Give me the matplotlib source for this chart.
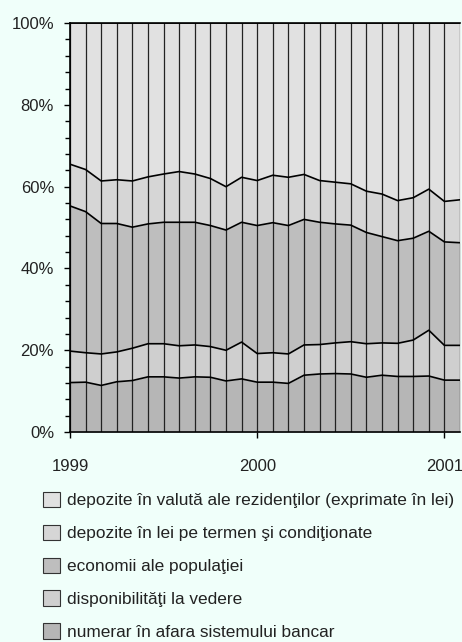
import numpy as np
import matplotlib
matplotlib.use("Agg")
import matplotlib.pyplot as plt
from matplotlib.patches import Patch

# luni: ian 1999 ... feb 2001 (26 puncte)
luni = np.arange(26)
ani = [1999, 2000, 2001]

# structura masei monetare (% din total)
numerar = [12.1, 12.2, 11.4, 12.3, 12.6, 13.5, 13.5, 13.2, 13.5, 13.4, 12.5, 13.0, 12.2,
           12.2, 11.9, 13.9, 14.2, 14.3, 14.2, 13.4, 13.9, 13.6, 13.6, 13.7, 12.7, 12.7]
disponibilitati = [7.7, 7.2, 7.7, 7.3, 7.9, 8.1, 8.1, 7.9, 7.8, 7.5, 7.5, 9.0, 7.0,
                   7.2, 7.2, 7.4, 7.2, 7.5, 7.9, 8.2, 7.9, 8.1, 8.9, 11.2, 8.5, 8.5]
economii = [35.5, 34.5, 31.9, 31.4, 29.6, 29.3, 29.7, 30.2, 30.0, 29.6, 29.4, 29.3, 31.3,
            31.8, 31.4, 30.7, 29.9, 29.1, 28.5, 27.2, 26.0, 25.1, 24.9, 24.2, 25.3, 25.1]
depozite_lei = [10.2, 10.3, 10.4, 10.7, 11.3, 11.5, 11.8, 12.4, 11.8, 11.5, 10.6, 11.0, 11.0,
                11.6, 11.8, 11.0, 10.2, 10.2, 10.1, 10.1, 10.4, 9.8, 9.9, 10.3, 9.9, 10.5]
depozite_valuta = [34.5, 35.8, 38.6, 38.3, 38.6, 37.6, 36.9, 36.3, 36.9, 38.0, 40.0, 37.7, 38.5,
                   37.2, 37.7, 37.0, 38.5, 38.9, 39.3, 41.1, 41.8, 43.4, 42.7, 40.6, 43.6, 43.2]

serii = [
    ("numerar în afara sistemului bancar", numerar, "#b6b6b6"),
    ("disponibilităţi la vedere", disponibilitati, "#cfcfcf"),
    ("economii ale populaţiei", economii, "#bebebe"),
    ("depozite în lei pe termen şi condiţionate", depozite_lei, "#d6d6d6"),
    ("depozite în valută ale rezidenţilor (exprimate în lei)", depozite_valuta, "#e1e1e1"),
]

fundal = "#f0fffa"
text_col = "#222222"
plt.rcParams["font.family"] = ["Liberation Sans", "DejaVu Sans"]

fig = plt.figure(figsize=(4.62, 6.42), dpi=100, facecolor=fundal)
ax = fig.add_axes([0.1515, 0.327, 0.8442, 0.637])
ax.set_facecolor(fundal)

jos = np.zeros(len(luni))
for nume, val, culoare in serii:
    sus = jos + np.array(val)
    ax.fill_between(luni, jos, sus, color=culoare, lw=0, zorder=1)
    ax.plot(luni, sus, color="black", lw=1.2, zorder=3)
    jos = sus

# linii verticale pentru fiecare luna
for x in luni:
    ax.axvline(x, color="#222222", lw=0.9, zorder=2)

ax.set_xlim(0, 25)
ax.set_ylim(0, 100)
ax.set_yticks(np.arange(0, 101, 20))
ax.set_yticklabels([f"{v}%" for v in range(0, 101, 20)])
ax.set_yticks(np.arange(0, 101, 4), minor=True)
ax.set_xticks([0, 12, 24])
ax.set_xticklabels([str(a) for a in ani])

ax.tick_params(axis="y", which="major", length=4.5, width=1, pad=7, labelsize=12, labelcolor=text_col)
ax.tick_params(axis="y", which="minor", length=3.5, width=1)
ax.tick_params(axis="x", which="major", length=4.5, width=1, pad=15, labelsize=12, labelcolor=text_col)
ax.spines["right"].set_visible(False)
for s in ["left", "bottom", "top"]:
    ax.spines[s].set_linewidth(1.2)
    ax.spines[s].set_zorder(4)

# legenda (ordine inversa fata de stiva)
handles = [Patch(facecolor=c, edgecolor="#333333", lw=0.8) for _, _, c in serii[::-1]]
labels = [n for n, _, _ in serii[::-1]]
leg = fig.legend(handles, labels, loc="upper left", bbox_to_anchor=(0.0786, 0.245),
                 frameon=False, fontsize=12.4, handlelength=1.0, handleheight=1.0,
                 handletextpad=0.4, labelspacing=0.95, borderaxespad=0)
for t in leg.get_texts():
    t.set_color(text_col)

fig.savefig("out.png", dpi=100, facecolor=fundal)
